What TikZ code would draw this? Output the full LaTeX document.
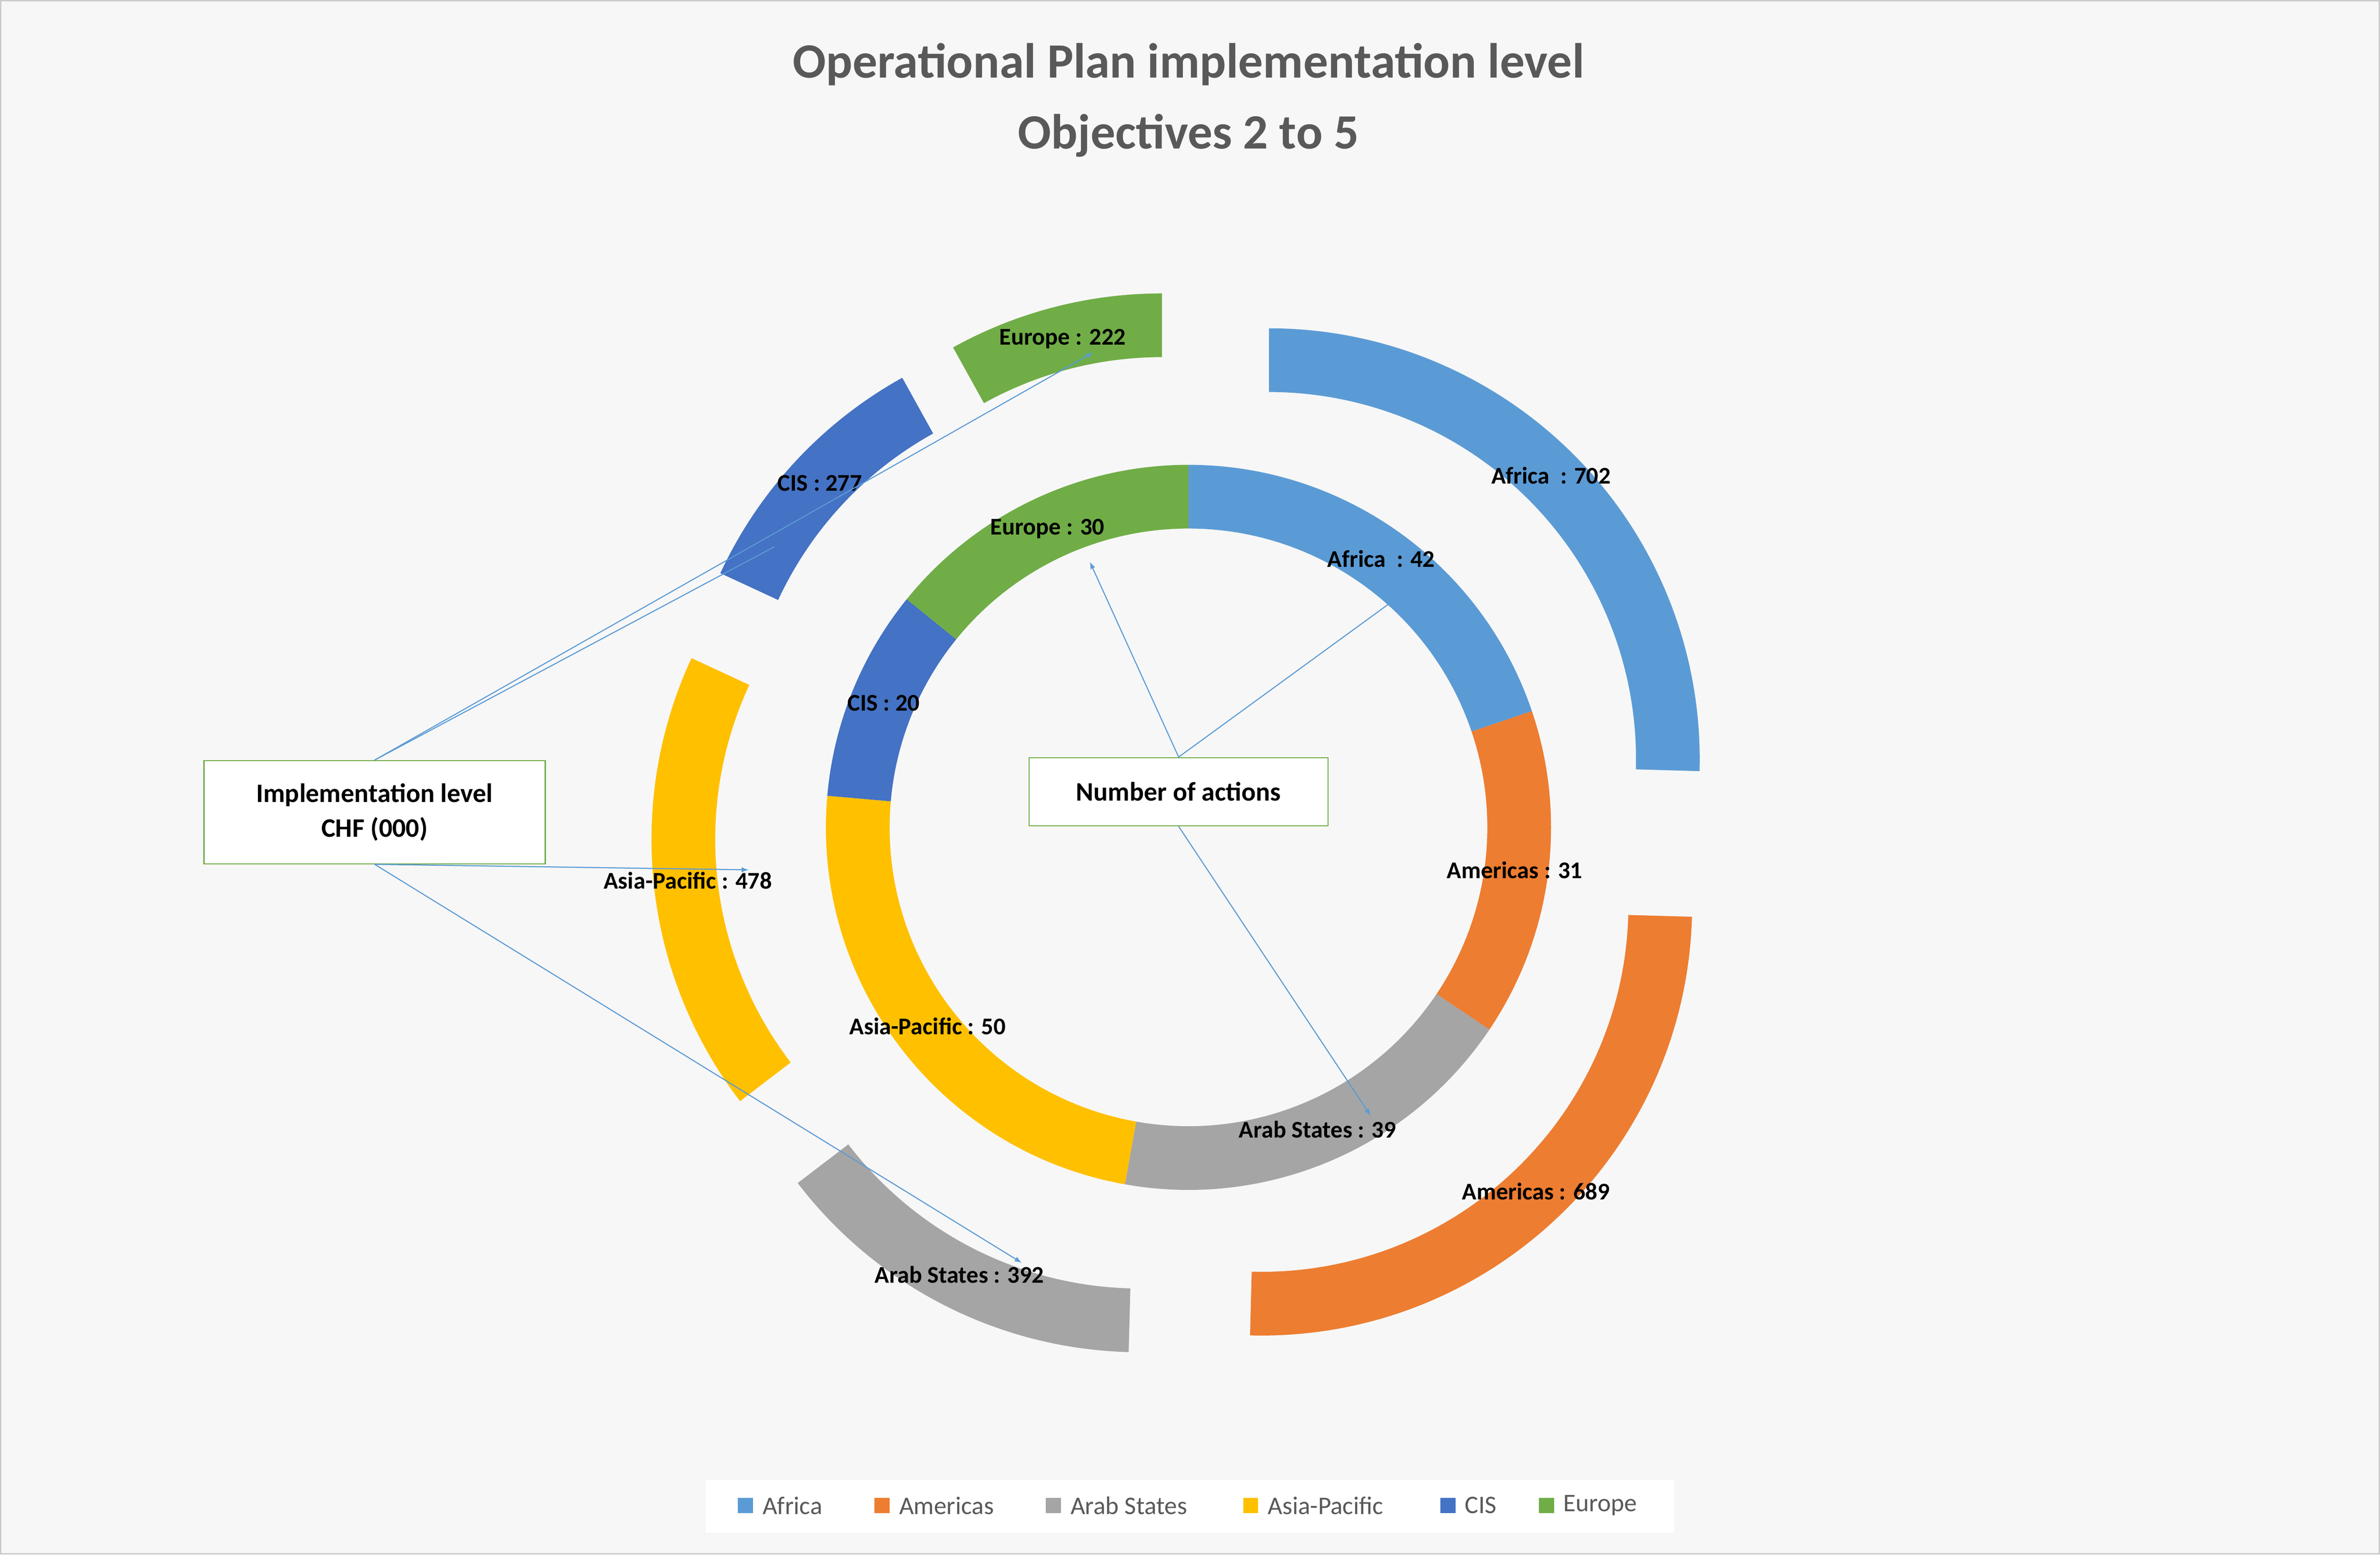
\documentclass[tikz,border=0pt]{standalone}
\usepackage{fontspec}
\setmainfont{Carlito}
\usetikzlibrary{arrows,calc}
\definecolor{cafrica}{HTML}{5B9BD5}
\definecolor{camericas}{HTML}{ED7D31}
\definecolor{carab}{HTML}{A5A5A5}
\definecolor{casia}{HTML}{FFC000}
\definecolor{ccis}{HTML}{4472C4}
\definecolor{ceurope}{HTML}{70AD47}
\definecolor{ctitle}{HTML}{595959}
\tikzset{>=latex}
\tikzstyle{lbl}=[font=\fontsize{18}{20}\selectfont\bfseries,text=black]
\tikzstyle{callout}=[rectangle,draw=ceurope,fill=white,thick,align=center,font=\fontsize{20}{26}\selectfont\bfseries]
\tikzstyle{pointer}=[draw=cafrica,line width=0.8pt]
\tikzstyle{legtext}=[font=\fontsize{19}{21}\selectfont,text=ctitle,anchor=west]
\begin{document}
\begin{tikzpicture}[x=0.04cm,y=0.04cm]
	\fill[black!3,draw=black!20,line width=1pt] (0,0) rectangle (1568,1024);
	\useasboundingbox (0,0) rectangle (1568,1024);

	% inner ring: number of actions
	\foreach \from/\to/\col in {90/18.7/cafrica,18.7/-33.9/camericas,-33.9/-100.1/carab,-100.1/-185/casia,-185/-219/ccis,-219/-270/ceurope}
		\fill[\col,shift={(783,479)}] (\from:239) arc[start angle=\from,end angle=\to,radius=239] -- (\to:197) arc[start angle=\to,end angle=\from,radius=197] -- cycle;

	% outer ring: implementation level, exploded
	\foreach \cx/\cy/\from/\to/\col in {836/524/90/-1.6/cafrica,831/428/-1.6/-91.5/camericas,751/417/-91.5/-142.6/carab,713/471/-142.6/-204.9/casia,732/527/-204.9/-241/ccis,765.5/547/-241/-270/ceurope}
		\fill[\col,shift={(\cx,\cy)}] (\from:284) arc[start angle=\from,end angle=\to,radius=284] -- (\to:242) arc[start angle=\to,end angle=\from,radius=242] -- cycle;

	\node[font=\fontsize{37}{40}\selectfont\bfseries,text=ctitle] (title1) at (783,982) {Operational Plan implementation level};
	\node[font=\fontsize{37}{40}\selectfont\bfseries,text=ctitle] (title2) at (783,935) {Objectives 2 to 5};

	\node[lbl] (oeur) at (700,801) {Europe : 222};
	\node[lbl] (ocis) at (540,706) {CIS : 277};
	\node[lbl] (oafr) at (1022,711) {Africa\ \ : 702};
	\node[lbl] (oasi) at (453,444) {Asia-Pacific : 478};
	\node[lbl] (oame) at (1012,239) {Americas : 689};
	\node[lbl] (oara) at (632,184) {Arab States : 392};

	\node[lbl] (ieur) at (690,676) {Europe : 30};
	\node[lbl] (iafr) at (910,656) {Africa\ \ : 42};
	\node[lbl] (icis) at (582,561) {CIS : 20};
	\node[lbl] (iame) at (998,451) {Americas : 31};
	\node[lbl] (iasi) at (611,348) {Asia-Pacific : 50};
	\node[lbl] (iara) at (868,280) {Arab States : 39};

	\node[callout,minimum width=225*0.04cm,minimum height=68*0.04cm] (impl) at (246.5,489) {Implementation level\\CHF (000)};
	\node[callout,minimum width=197*0.04cm,minimum height=45*0.04cm] (nact) at (776.5,502.5) {Number of actions};

	\coordinate (peur) at (720,792);
	\coordinate (pcis) at (510,664);
	\coordinate (pasi) at (493,451);
	\coordinate (para) at (673,192);
	\coordinate (qeur) at (718,654);
	\coordinate (qafr) at (916,627);
	\coordinate (qara) at (903,289);

	\draw[pointer,->] (impl.north) -- (peur);
	\draw[pointer] (impl.north) -- (pcis);
	\draw[pointer,->] (impl.south) -- (pasi);
	\draw[pointer,->] (impl.south) -- (para);
	\draw[pointer,->] (nact.north) -- (qeur);
	\draw[pointer] (nact.north) -- (qafr);
	\draw[pointer,->] (nact.south) -- (qara);

	% legend
	\fill[white] (465,14) rectangle (1103,49);
	\foreach \x/\col/\txt in {491/cafrica/Africa,581/camericas/Americas,694/carab/Arab States,824/casia/Asia-Pacific,954/ccis/CIS,1019/ceurope/Europe}
		\node[fill=\col,minimum size=10*0.04cm,inner sep=0pt] (leg\col) at (\x,32) {};
	\foreach \x/\col/\txt in {491/cafrica/Africa,581/camericas/Americas,694/carab/Arab States,824/casia/Asia-Pacific,954/ccis/CIS,1019/ceurope/Europe}
		\node[legtext] (legt\col) at ($(leg\col.east)+(3,0)$) {\txt};
\end{tikzpicture}
\end{document}
